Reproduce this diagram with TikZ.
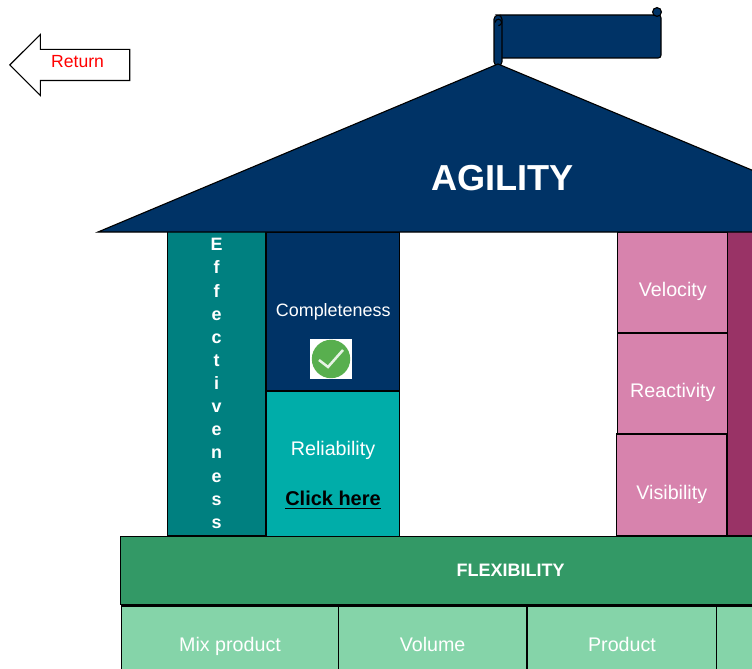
\documentclass[tikz,border=0pt]{standalone}
\usepackage{fontspec}
\setmainfont{Liberation Sans}
\usetikzlibrary{shapes.arrows}
\definecolor{navy}{RGB}{0,51,102}
\definecolor{teal1}{RGB}{0,128,128}
\definecolor{teal2}{RGB}{0,173,169}
\definecolor{pink1}{RGB}{215,131,173}
\definecolor{plum}{RGB}{153,51,102}
\definecolor{green1}{RGB}{51,153,102}
\definecolor{green2}{RGB}{133,212,169}
\definecolor{tickgreen}{RGB}{88,175,78}
\tikzset{
  block/.style={draw, thick, inner sep=0pt, text=white, font=\fontsize{14}{17}\selectfont},
  lowblock/.style={block, text height=.8cm, text depth=.1cm},
  baseblock/.style={block, fill=green2, minimum height=1.9cm, text height=.45cm, text depth=.1cm},
  label/.style={inner sep=0pt, text=white, font=\fontsize{14}{17}\selectfont}
}

\begin{document}
\begin{tikzpicture}
\path[use as bounding box, clip] (0,0) rectangle (18.8,16.7);

\node[draw, thick, single arrow, shape border rotate=180, anchor=tip, inner sep=0pt,
  minimum height=3cm, minimum width=1.5cm, single arrow head extend=.375cm,
  single arrow head indent=0cm, text=red, font=\fontsize{12.5}{15}\selectfont,
  text height=.45cm, text depth=.3cm] (Return) at (.225,15.075) {Return};

% banner
\draw[thick, fill=navy, rounded corners=2pt] (12.45,16.325) rectangle (16.525,15.25);
\draw[thick, fill=navy, rounded corners=3pt] (12.35,16.325) rectangle (12.55,15.05);
\draw[thick, fill=navy] (16.425,16.4) circle (.11);
\draw[thick] (12.38,16.14) arc (180:-90:.08);

% left pillar
\node[block, fill=teal1, minimum width=2.45cm, minimum height=7.625cm, align=center,
  font=\fontsize{12.75}{16.45}\selectfont\bfseries] (Effectiveness) at (5.415,7.1125)
  {E\\f\\f\\e\\c\\t\\i\\v\\e\\n\\e\\s\\s};
\node[block, fill=navy, minimum width=3.325cm, minimum height=3.975cm,
  font=\fontsize{12.75}{15}\selectfont] (Completeness) at (8.33,8.9125) {Completeness};
\node[fill=white, inner sep=0pt, minimum width=1.05cm, minimum height=1cm] (Icon) at (8.275,7.725) {};
\node[circle, fill=tickgreen, inner sep=0pt, minimum size=.96cm] (Tick) at (Icon.center) {};
\draw[white!85!tickgreen, line width=1.8pt] (Tick.center) ++(-.3,-.025) -- ++(.225,-.175) -- ++(.375,.425);
\node[block, fill=teal2, minimum width=3.325cm, minimum height=3.65cm] (Reliability) at (8.33,5.1) {};
\node[label] (RelText) at (8.325,5.45) {Reliability};
\node[label, text=black, font=\fontsize{14.2}{17}\selectfont\bfseries] (Click) at (8.325,4.2) {\underline{Click here}};

% right pillar
\node[lowblock, fill=pink1, minimum width=2.75cm, minimum height=2.525cm] (Velocity) at (16.82,9.6375) {Velocity};
\node[lowblock, fill=pink1, minimum width=2.75cm, minimum height=2.525cm] (Reactivity) at (16.82,7.1125) {Reactivity};
\node[lowblock, fill=pink1, minimum width=2.75cm, minimum height=2.55cm] (Visibility) at (16.795,4.575) {Visibility};
\node[block, fill=plum, minimum width=2.75cm, minimum height=7.625cm] (Dark) at (19.565,7.1125) {};

% roof
\coordinate (apex) at (12.45,15.1);
\coordinate (left) at (2.45,10.9);
\coordinate (right) at (22.5,10.9);
\draw[thick, fill=navy] (left) -- (apex) -- (right) -- cycle;
\node[inner sep=0pt, text=white, font=\fontsize{25.7}{30}\selectfont\bfseries] (Agility) at (12.56,12.25) {AGILITY};

% base
\node[block, fill=green1, minimum width=19.5cm, minimum height=1.7cm,
  font=\fontsize{12.8}{15}\selectfont\bfseries] (Flexibility) at (12.765,2.43) {FLEXIBILITY};
\node[baseblock, minimum width=5.425cm] (Mix) at (5.75,.6) {Mix product};
\node[baseblock, minimum width=4.7cm] (Volume) at (10.815,.6) {Volume};
\node[baseblock, minimum width=4.725cm] (Product) at (15.55,.6) {Product};
\node[baseblock, minimum width=4.575cm] (Next) at (20.2,.6) {};
\end{tikzpicture}
\end{document}
